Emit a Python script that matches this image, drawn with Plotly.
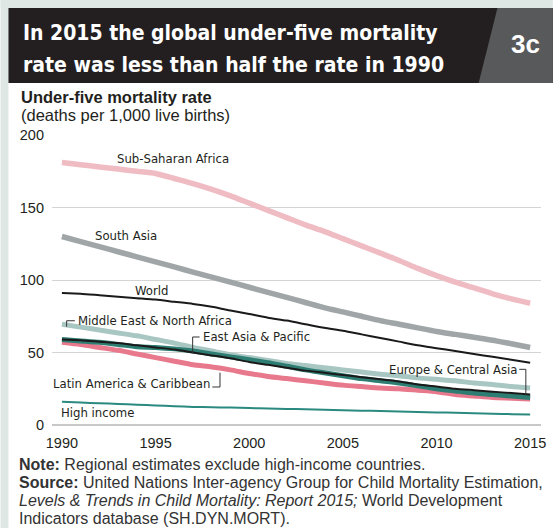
import plotly.graph_objects as go

years = list(range(1990, 2016))

ssa = [181, 179.5, 178, 176.5, 175, 173.5, 170, 166.5, 162.5, 158, 153, 148, 143, 138, 133.5,
       128.5, 123.5, 118.5, 113.5, 108, 103, 98.5, 94.5, 90.5, 87, 84]
south_asia = [130, 126.5, 123, 119.5, 116, 112.5, 109, 105.5, 102, 98.5, 95, 91.5, 88, 84.5, 81,
              78, 75, 72, 69.5, 67, 64.5, 62.5, 60.5, 58.5, 56, 53.5]
world = [91, 90.5, 89.5, 88.5, 87.5, 86.5, 85, 83.5, 81.5, 79, 76.5, 74, 72, 69.5, 67,
         65, 62.5, 60, 57.5, 55, 53, 51, 49, 47, 45, 43]
mena = [69.5, 67.5, 65.5, 63.5, 61.5, 59, 56.5, 53.5, 51, 48.5, 46.5, 44.5, 42.5, 41, 39.5,
        38, 36.5, 35, 34, 32.5, 31.5, 30.5, 29, 28, 26.5, 25.5]
eap = [59, 58, 57, 55.5, 54, 53.5, 52.5, 51, 49, 47, 45, 43, 40.5, 38, 36,
       34, 32, 30.5, 29, 27, 25, 23.5, 22, 21, 20, 19]
lac = [57, 55.5, 53.5, 51.5, 49, 46.5, 44, 41.5, 40, 38, 35.5, 33.5, 32, 30.5, 29,
       27.5, 26.5, 25.5, 25, 24, 23, 21, 20, 19, 18.5, 18]
eca = [59, 58.5, 57.5, 56.5, 55, 53.5, 52, 50, 48, 46, 43.5, 41.5, 39.5, 37.5, 36,
       34.5, 33, 31.5, 30, 28, 26.5, 25, 24, 23, 22, 21]
high_income = [16, 15.5, 15, 14.5, 14, 13.5, 13, 12.5, 12.3, 12, 11.7, 11.4, 11.1, 10.8, 10.5,
               10.2, 9.9, 9.6, 9.3, 9, 8.7, 8.4, 8.1, 7.8, 7.5, 7.2]

y_ticks = [0, 50, 100, 150, 200]
x_ticks = [1990, 1995, 2000, 2005, 2010, 2015]

W, H = 558, 528
L, R, T, B = 52, 12, 135, 103
PW, PH = W - L - R, H - T - B


def xp(px):
    return (px - L) / PW


def yp(py):
    return (H - B - py) / PH


COND = "DejaVu Sans Condensed, Liberation Sans Narrow, sans-serif"
SANS = "Liberation Sans, Arial, sans-serif"

series = [
    ("Sub-Saharan Africa", ssa, "#f0bcc4", 5.5),
    ("South Asia", south_asia, "#a0a6a8", 5.5),
    ("Latin America & Caribbean", lac, "#e8798c", 5),
    ("Middle East & North Africa", mena, "#a9c7c2", 5),
    ("East Asia & Pacific", eap, "#2e7d73", 5),
    ("Europe & Central Asia", eca, "#1a1a1a", 2),
    ("World", world, "#1a1a1a", 2),
    ("High income", high_income, "#2b8a80", 2),
]

fig = go.Figure()
for name, vals, col, w in series:
    fig.add_trace(go.Scatter(x=years, y=vals, mode="lines", name=name,
                             line=dict(color=col, width=w, shape="spline", smoothing=0.6),
                             hoverinfo="x+y+name"))

shapes = []
# background strips
shapes.append(dict(type="rect", xref="paper", yref="paper", x0=xp(0), x1=xp(8), y0=yp(H), y1=yp(0),
                   fillcolor="#dfe7e5", line=dict(width=0), layer="below"))
shapes.append(dict(type="rect", xref="paper", yref="paper", x0=xp(0), x1=xp(W), y0=yp(8), y1=yp(0),
                   fillcolor="#dfe7e5", line=dict(width=0), layer="below"))
# title box
shapes.append(dict(type="rect", xref="paper", yref="paper", x0=xp(8), x1=xp(W), y0=yp(83), y1=yp(8),
                   fillcolor="#231f20", line=dict(width=0)))
shapes.append(dict(type="path", xref="paper", yref="paper",
                   path=f"M {xp(502)} {yp(8)} L {xp(W)} {yp(8)} L {xp(W)} {yp(83)} L {xp(483)} {yp(83)} Z",
                   fillcolor="#58595b", line=dict(width=0)))

# leader lines (data coords)
lc = dict(color="#333333", width=1)
leaders = [
    [(1990.25, 67.8), (1990.25, 71.9), (1990.69, 71.9)],
    [(1996.98, 49.7), (1996.98, 60.7), (1997.35, 60.7)],
    [(1998.44, 36.1), (1998.44, 26.2), (1998.03, 26.2)],
    [(2014.77, 20.7), (2014.77, 38.4), (2014.42, 38.4)],
]
for pts in leaders:
    path = "M " + " L ".join(f"{x} {y}" for x, y in pts)
    shapes.append(dict(type="path", xref="x", yref="y", path=path, line=lc))

ann = []
lab_font = dict(family=COND, size=13, color="#231f20")
labels = [
    ("Sub-Saharan Africa", 1992.9, 184.1, "left"),
    ("South Asia", 1991.7, 131, "left"),
    ("World", 1993.86, 93.1, "left"),
    ("Middle East & North Africa", 1990.82, 72.1, "left"),
    ("East Asia & Pacific", 1997.5, 60.9, "left"),
    ("Latin America & Caribbean", 1997.95, 28.5, "right"),
    ("High income", 1989.9, 8.3, "left"),
    ("Europe & Central Asia", 2014.35, 38.4, "right"),
]
for txt, x, y, xa in labels:
    ann.append(dict(text=txt, x=x, y=y, xref="x", yref="y", xanchor=xa, yanchor="middle",
                    showarrow=False, font=lab_font, borderpad=0))

# title
title_font = dict(family=COND, size=21, color="white", weight="bold")
ann.append(dict(text="In 2015 the global under-five mortality",
                x=xp(21), y=yp(33), xref="paper", yref="paper", xanchor="left", yanchor="middle",
                showarrow=False, font=title_font))
ann.append(dict(text="rate was less than half the rate in 1990",
                x=xp(21), y=yp(65), xref="paper", yref="paper", xanchor="left", yanchor="middle",
                showarrow=False, font=title_font))
ann.append(dict(text="<b>3c</b>", x=xp(530), y=yp(44), xref="paper", yref="paper",
                xanchor="center", yanchor="middle", showarrow=False,
                font=dict(family=SANS, size=26, color="white")))
# axis title
ann.append(dict(text="<b>Under-five mortality rate</b>", x=xp(19), y=yp(97), xref="paper", yref="paper",
                xanchor="left", yanchor="middle", showarrow=False,
                font=dict(family=SANS, size=16.5, color="#231f20")))
ann.append(dict(text="(deaths per 1,000 live births)", x=xp(19), y=yp(115), xref="paper", yref="paper",
                xanchor="left", yanchor="middle", showarrow=False,
                font=dict(family=SANS, size=16.5, color="#231f20")))
# footnotes
notes = [
    ("<b>Note:</b> Regional estimates exclude high-income countries.", 464),
    ("<b>Source:</b> United Nations Inter-agency Group for Child Mortality Estimation,", 482),
    ("<i>Levels & Trends in Child Mortality: Report 2015;</i> World Development", 500),
    ("Indicators database (SH.DYN.MORT).", 518),
]
for txt, py in notes:
    ann.append(dict(text=txt, x=xp(17), y=yp(py), xref="paper", yref="paper",
                    xanchor="left", yanchor="middle", showarrow=False,
                    font=dict(family=SANS, size=16, color="#333333")))

fig.update_layout(
    width=W, height=H, margin=dict(l=L, r=R, t=T, b=B, pad=0),
    paper_bgcolor="white", plot_bgcolor="white", showlegend=False,
    shapes=shapes, annotations=ann,
    xaxis=dict(range=[1989.47, 2015.58], tickvals=x_ticks, ticktext=[str(v) for v in x_ticks],
               showgrid=False, zeroline=False, showline=False, ticks="", ticklabelstandoff=7,
               tickfont=dict(family=SANS, size=14.5, color="#231f20")),
    yaxis=dict(range=[0, 200], tickvals=y_ticks, showgrid=True, gridcolor="#d4d4d4", gridwidth=1,
               zeroline=True, zerolinecolor="#c8c8c8", zerolinewidth=1.5, showline=False,
               ticks="", ticklabelstandoff=7, tickfont=dict(family=SANS, size=14.5, color="#231f20")),
)

fig.write_html("out.html", config={"displayModeBar": False},
               post_script="document.body.style.margin='0';document.body.style.padding='0';")
